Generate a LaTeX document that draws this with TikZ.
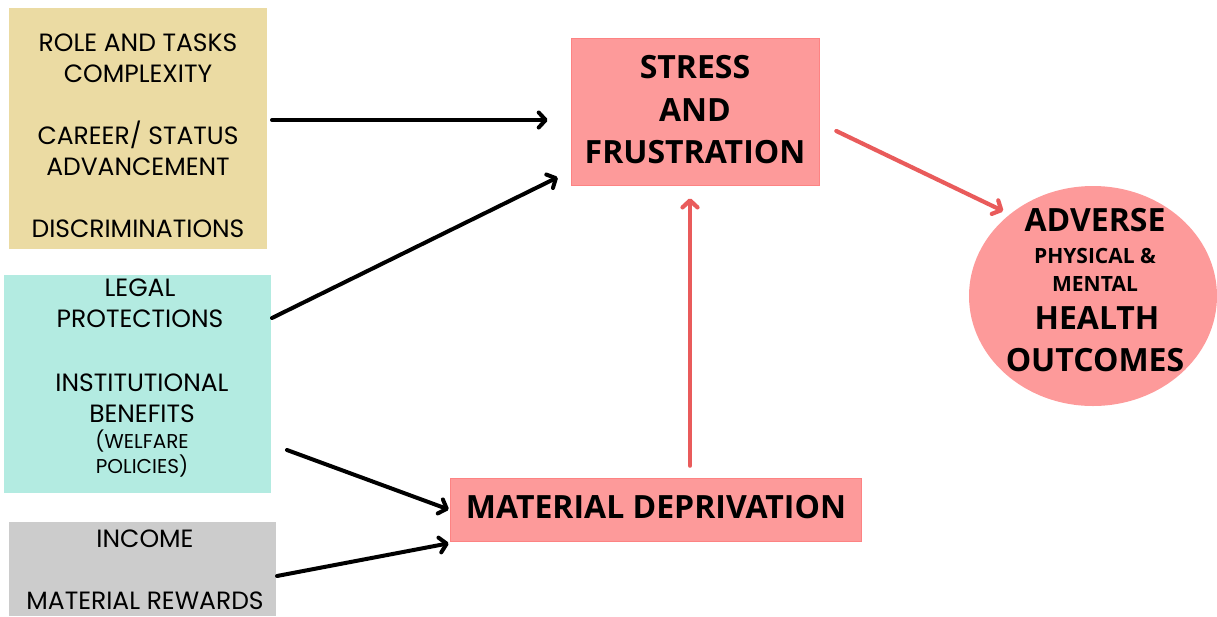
\documentclass[tikz,border=0pt]{standalone}
\usepackage{fontspec}
\setmainfont{Poppins}
\newfontfamily\boldf{Open Sans}
\usetikzlibrary{arrows.meta,shapes.geometric}
\definecolor{tanc}{HTML}{EBDBA3}
\definecolor{tealc}{HTML}{B3EBE1}
\definecolor{grayc}{HTML}{CCCCCC}
\definecolor{pinkc}{HTML}{FD9A9A}
\definecolor{redarr}{HTML}{E95B5B}
\begin{document}
\begin{tikzpicture}[x=1pt,y=-1pt,
  box/.style={draw=none,inner sep=0pt},
  ltext/.style={align=center,inner sep=0pt,font=\fontsize{25}{31}\selectfont},
  btext/.style={align=center,inner sep=0pt,font=\boldf\bfseries\fontsize{32}{42.5}\selectfont},
  etext/.style={anchor=base,inner sep=0pt,font=\boldf\bfseries\fontsize{32}{40}\selectfont},
  esmall/.style={anchor=base,inner sep=0pt,font=\boldf\bfseries\fontsize{21}{28}\selectfont},
  blk/.style={draw=black,line width=4pt,line cap=round,-{Straight Barb[length=7pt,width=15pt,round]}},
  red/.style={draw=redarr,line width=4.2pt,line cap=round,-{Straight Barb[length=7pt,width=15pt,round]}}]
\useasboundingbox (0,0) rectangle (1217,616);
% boxes
\fill[tanc] (9,8) rectangle (267,249);
\node[box,minimum width=258pt,minimum height=241pt] (tan) at (138,128.5) {};
\fill[tealc] (4,275) rectangle (271,493);
\node[box,minimum width=267pt,minimum height=218pt] (teal) at (137.5,384) {};
\fill[grayc] (9,522) rectangle (276,616);
\node[box,minimum width=267pt,minimum height=94pt] (gray) at (142.5,569) {};
\node[box,fill=pinkc,draw=pinkc!85!red,line width=0.6pt,minimum width=248pt,minimum height=147pt] (stress) at (695,111.5) {};
\node[box,fill=pinkc,draw=pinkc!85!red,line width=0.6pt,minimum width=411pt,minimum height=63pt] (md) at (655.5,509.5) {};
\node[ellipse,fill=pinkc,inner sep=0pt,minimum width=248pt,minimum height=220pt] (out) at (1093,296) {};
% texts
\node[ltext] (t1) at (138,136) {ROLE AND TASKS\\COMPLEXITY\\[31pt]CAREER/ STATUS\\ADVANCEMENT\\[31pt]DISCRIMINATIONS};
\node[ltext] (t2a) at (140,303.5) {LEGAL\\PROTECTIONS};
\node[ltext] (t2b) at (142,398.5) {INSTITUTIONAL\\BENEFITS};
\node[align=center,inner sep=0pt,font=\fontsize{20}{25}\selectfont] (t2c) at (142,454) {(WELFARE\\POLICIES)};
\node[ltext] (t3) at (145,569.5) {INCOME\\[31pt]MATERIAL REWARDS};
\node[btext] (t4) at (695,110) {STRESS\\AND\\FRUSTRATION};
\node[btext] (t5) at (656,507) {MATERIAL DEPRIVATION};
\node[etext] (e1) at (1095,231.5) {ADVERSE};
\node[esmall] (e2) at (1095,263.5) {PHYSICAL \&};
\node[esmall] (e3) at (1095,291.5) {MENTAL};
\node[etext] (e4) at (1097,329.5) {HEALTH};
\node[etext] (e5) at (1095,371.5) {OUTCOMES};
% connectors
\coordinate (a1s) at (272,120);
\coordinate (a2s) at (272,318);
\coordinate (a3s) at (287,450);
\coordinate (a4s) at (277,576);
\draw[blk] (a1s) -- ([xshift=-23pt]stress.west |- a1s);
\draw[blk] (a2s) -- ([xshift=-13pt,yshift=8pt]stress.south west);
\draw[blk] (a3s) -- ([xshift=-1pt]md.west);
\draw[blk] (a4s) -- ([xshift=-1pt,yshift=-2pt]md.south west);
\draw[red] ([xshift=17pt,yshift=-19.5pt]stress.east) -- ([xshift=-2pt,yshift=7pt]out.north west);
\draw[red] ([xshift=34.5pt,yshift=12pt]md.north) -- ([xshift=-5pt,yshift=-13pt]stress.south);
\end{tikzpicture}
\end{document}
